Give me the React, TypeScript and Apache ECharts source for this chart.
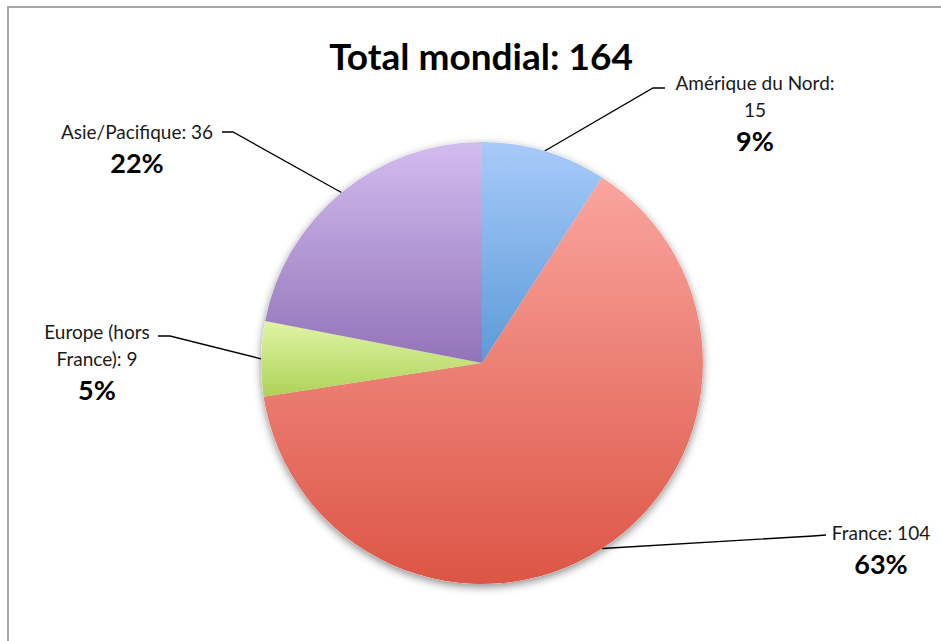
import React, { useEffect, useRef } from "react";
import * as echarts from "echarts";

const categories = ["Amérique du Nord", "France", "Europe (hors France)", "Asie/Pacifique"];
const values = [15, 104, 9, 36];
const percentLabels = ["9%", "63%", "5%", "22%"];
const titleText = "Total mondial: 164";

// how each label text is wrapped (display only)
const labelTexts = ["Amérique du Nord:\n15", "France: 104", "Europe (hors\nFrance): 9", "Asie/Pacifique: 36"];

const gradients = [
  ["#a8cbf9", "#5b9ad8"],
  ["#faa59e", "#dc5545"],
  ["#e0f5a6", "#aed257"],
  ["#d2bdef", "#9273b8"],
];

// label placement: text anchor (center x, top y), elbow point, end point
const labelPlacement = [
  { x: 755, y: 69, elbow: [653, 88], end: [665, 88] },
  { x: 881, y: 519, elbow: [813, 536], end: [826, 535] },
  { x: 97, y: 318, elbow: [170, 336], end: [158, 336] },
  { x: 137, y: 118, elbow: [233, 132], end: [222, 132] },
];

const FONT = "Lato, 'Noto Sans', sans-serif";

export default function App() {
  const ref = useRef<HTMLDivElement>(null);
  useEffect(() => {
    if (!ref.current) return;
    const chart = echarts.init(ref.current, undefined, { renderer: "svg" });
    const data = categories.map((name, i) => ({
      name,
      value: values[i],
      itemStyle: {
        color: new echarts.graphic.LinearGradient(0, 0, 0, 1, [
          { offset: 0, color: gradients[i][0] },
          { offset: 1, color: gradients[i][1] },
        ]),
      },
    }));
    chart.setOption({
      animation: false,
      backgroundColor: "#ffffff",
      graphic: [
        {
          type: "rect",
          shape: { x: 8, y: 7, width: 1200, height: 1200 },
          style: { fill: "none", stroke: "#a6a6a6", lineWidth: 2 },
          z: -10,
        },
        {
          type: "text",
          x: 481,
          y: 55,
          style: {
            text: titleText,
            font: `bold 37px ${FONT}`,
            fill: "#000",
            align: "center",
            verticalAlign: "middle",
          },
        },
      ],
      series: [
        {
          type: "pie",
          center: [482, 363],
          radius: 221,
          startAngle: 90,
          clockwise: true,
          silent: true,
          z: 1,
          label: { show: false },
          labelLine: { show: false },
          itemStyle: {
            color: "#ffffff",
            shadowBlur: 8,
            shadowOffsetY: 3,
            shadowColor: "rgba(0,0,0,0.45)",
          },
          data: categories.map((name, i) => ({ name, value: values[i] })),
        },
        {
          type: "pie",
          center: [482, 363],
          radius: 221,
          startAngle: 90,
          clockwise: true,
          z: 2,
          data,
          label: {
            show: true,
            position: "outside",
            formatter: (p: any) => `{n|${labelTexts[p.dataIndex]}}\n{p|${percentLabels[p.dataIndex]}}`,
            rich: {
              n: { fontFamily: FONT, fontSize: 19, lineHeight: 27, color: "#1a1a1a", align: "center" },
              p: { fontFamily: FONT, fontSize: 27, fontWeight: "bold", lineHeight: 34, color: "#000", align: "center" },
            },
          },
          labelLine: {
            show: true,
            length: 10,
            length2: 10,
            lineStyle: { color: "#000", width: 1.3 },
          },
          labelLayout: (params: any) => {
            const pl = labelPlacement[params.dataIndex];
            const start = params.labelLinePoints ? params.labelLinePoints[0] : pl.elbow;
            return {
              x: pl.x,
              y: pl.y,
              align: "center",
              verticalAlign: "top",
              labelLinePoints: [start, pl.elbow, pl.end],
            };
          },
        },
      ],
    });
    return () => chart.dispose();
  }, []);
  return (
    <div
      ref={ref}
      style={{ position: "absolute", left: 0, top: 0, width: 941, height: 641 }}
    />
  );
}
